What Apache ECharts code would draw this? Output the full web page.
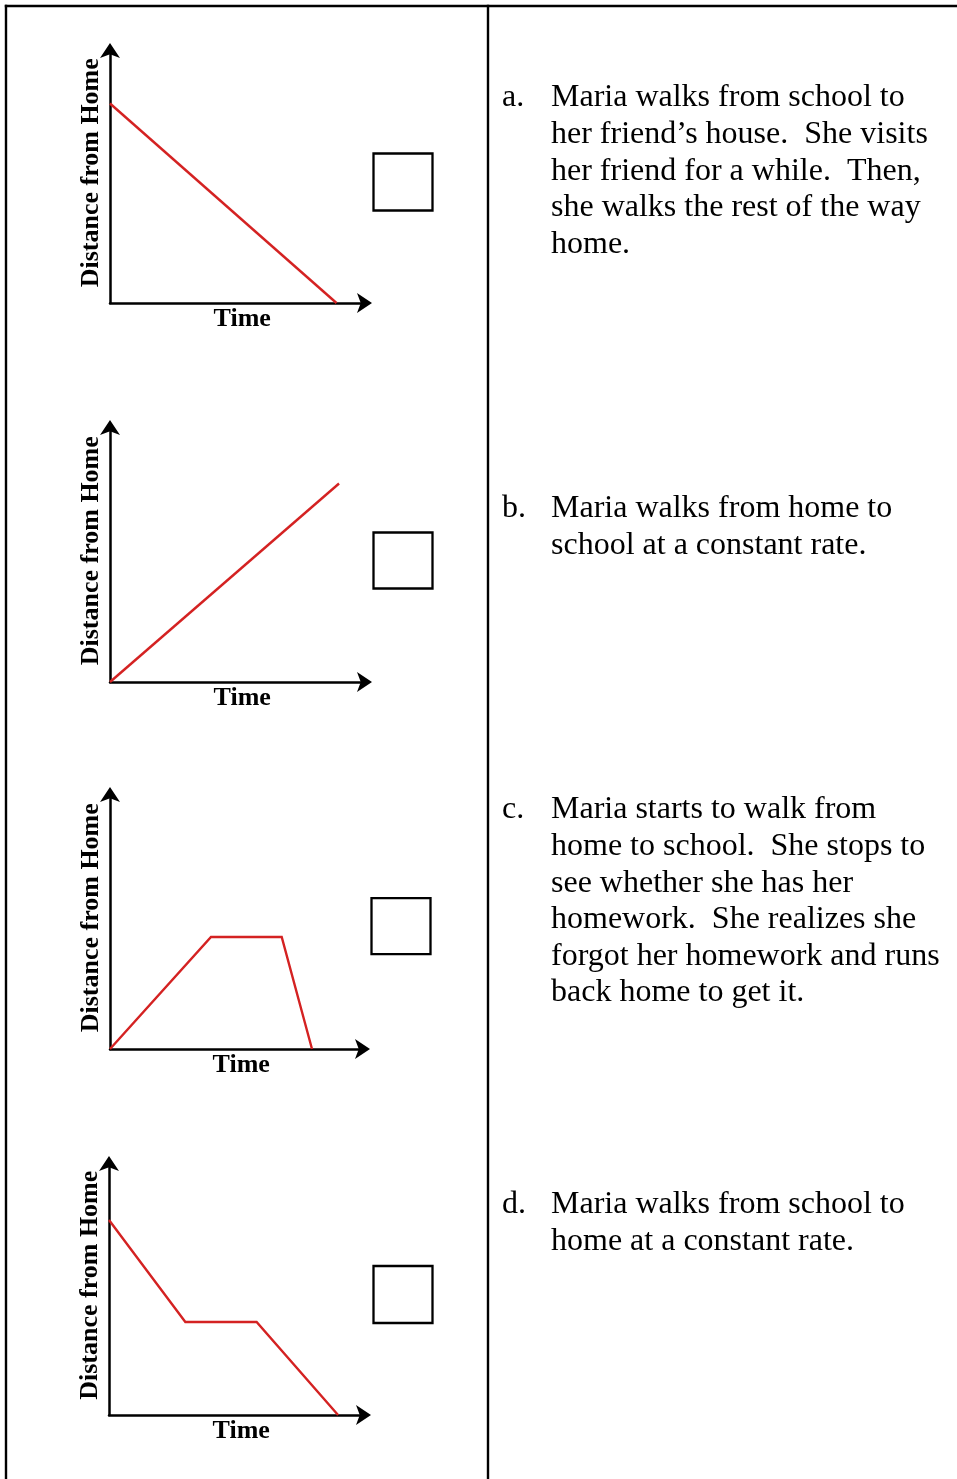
<!DOCTYPE html>
<html>
<head>
<meta charset="utf-8">
<title>Distance from Home – matching graphs</title>
<script src="https://cdn.jsdelivr.net/npm/echarts@6/dist/echarts.min.js"></script>
<style>
  html, body { margin: 0; padding: 0; background: #fff; }
  #chart { width: 957px; height: 1479px; }
</style>
</head>
<body>
<div id="chart"></div>
<script>
// Axis titles shared by all four graphs
const timeLabel = 'Time';
const distanceLabel = 'Distance from Home';

// Graph values: [time, distance] in arbitrary units (0–10 on both axes)
const graph1 = [[0, 7.9], [8.9, 0]];
const graph2 = [[0, 0], [9.0, 7.8]];
const graph3 = [[0, 0], [4.0, 4.4], [6.8, 4.4], [8.0, 0]];
const graph4 = [[0, 7.75], [3.0, 3.7], [5.8, 3.7], [9.0, 0]];

// Story statements listed in the right-hand column
const statementLetters = ['a.', 'b.', 'c.', 'd.'];
const statementA = [
  'Maria walks from school to',
  'her friend\u2019s house.  She visits',
  'her friend for a while.  Then,',
  'she walks the rest of the way',
  'home.'
];
const statementB = [
  'Maria walks from home to',
  'school at a constant rate.'
];
const statementC = [
  'Maria starts to walk from',
  'home to school.  She stops to',
  'see whether she has her',
  'homework.  She realizes she',
  'forgot her homework and runs',
  'back home to get it.'
];
const statementD = [
  'Maria walks from school to',
  'home at a constant rate.'
];

const graphs = [graph1, graph2, graph3, graph4];
const statements = [statementA, statementB, statementC, statementD];

// ---- layout ----
// Each axis runs from the origin to the middle of its arrow head;
// the head is pushed forward so its tip lands half a head further out.
const ARROW_LEN = 15;
const gridBoxes = [
  { left: 110, top: 43 + ARROW_LEN / 2, right: 372 - ARROW_LEN / 2, bottom: 303 },
  { left: 110, top: 420 + ARROW_LEN / 2, right: 372 - ARROW_LEN / 2, bottom: 682 },
  { left: 110, top: 787 + ARROW_LEN / 2, right: 370 - ARROW_LEN / 2, bottom: 1049 },
  { left: 109, top: 1156 + ARROW_LEN / 2, right: 371 - ARROW_LEN / 2, bottom: 1415 }
];
const answerBoxes = [
  { x: 373.5, y: 153.5, w: 59, h: 57 },
  { x: 373.5, y: 532.5, w: 59, h: 56 },
  { x: 371.5, y: 898.2, w: 59, h: 56 },
  { x: 373.5, y: 1266, w: 59, h: 57 }
];
const statementTops = [98, 509, 810, 1205];
const LINE_PITCH = 36.6;

const serif = '"Liberation Serif", "Times New Roman", Times, serif';
const INK = '#000';
const RED = '#d42222';

const axisLine = {
  show: true,
  onZero: false,
  symbol: ['none', 'arrow'],
  symbolSize: [15, ARROW_LEN],
  symbolOffset: [0, ARROW_LEN / 2],
  lineStyle: { color: INK, width: 2.5 }
};
const nameStyle = {
  fontFamily: serif,
  fontWeight: 'bold',
  fontSize: 26,
  color: INK
};

const grid = [], xAxis = [], yAxis = [], series = [];
gridBoxes.forEach((b, i) => {
  grid.push({
    left: b.left,
    top: b.top,
    width: b.right - b.left,
    height: b.bottom - b.top,
    containLabel: false
  });
  xAxis.push({
    type: 'value', gridIndex: i, min: 0, max: 10,
    axisLine: axisLine,
    axisTick: { show: false }, axisLabel: { show: false }, splitLine: { show: false },
    name: timeLabel, nameLocation: 'middle', nameGap: 3,
    nameTextStyle: Object.assign({ padding: [0, 0, 0, 10] }, nameStyle)
  });
  yAxis.push({
    type: 'value', gridIndex: i, min: 0, max: 10,
    axisLine: axisLine,
    axisTick: { show: false }, axisLabel: { show: false }, splitLine: { show: false },
    name: distanceLabel, nameLocation: 'middle', nameGap: 6,
    nameTextStyle: Object.assign({ padding: [0, 0, 0, 8] }, nameStyle)
  });
  series.push({
    type: 'line',
    xAxisIndex: i, yAxisIndex: i,
    data: graphs[i],
    showSymbol: false,
    symbol: 'none',
    clip: false,
    z: 1,
    lineStyle: { color: RED, width: 2.4, join: 'miter' },
    animation: false
  });
});

// Table frame, answer boxes and statement text
const graphic = [];
const frameStyle = { stroke: INK, lineWidth: 2.4 };
graphic.push({ type: 'line', shape: { x1: 4.8, y1: 6, x2: 957, y2: 6 }, style: frameStyle });
graphic.push({ type: 'line', shape: { x1: 6, y1: 4.8, x2: 6, y2: 1479 }, style: frameStyle });
graphic.push({ type: 'line', shape: { x1: 488, y1: 4.8, x2: 488, y2: 1479 }, style: frameStyle });

answerBoxes.forEach(r => {
  graphic.push({
    type: 'rect',
    shape: { x: r.x, y: r.y, width: r.w, height: r.h },
    style: { fill: '#fff', stroke: INK, lineWidth: 2.3 }
  });
});

statements.forEach((lines, i) => {
  graphic.push({
    type: 'text',
    x: 502, y: statementTops[i],
    style: {
      text: statementLetters[i],
      font: '32px ' + serif,
      fill: INK,
      verticalAlign: 'middle'
    }
  });
  lines.forEach((line, k) => {
    graphic.push({
      type: 'text',
      x: 551, y: statementTops[i] + k * LINE_PITCH,
      style: {
        text: line,
        font: '32px ' + serif,
        fill: INK,
        verticalAlign: 'middle'
      }
    });
  });
});

const chart = echarts.init(document.getElementById('chart'), null, { renderer: 'canvas' });
chart.setOption({
  backgroundColor: '#fff',
  animation: false,
  grid: grid,
  xAxis: xAxis,
  yAxis: yAxis,
  series: series,
  graphic: graphic
});
</script>
</body>
</html>
